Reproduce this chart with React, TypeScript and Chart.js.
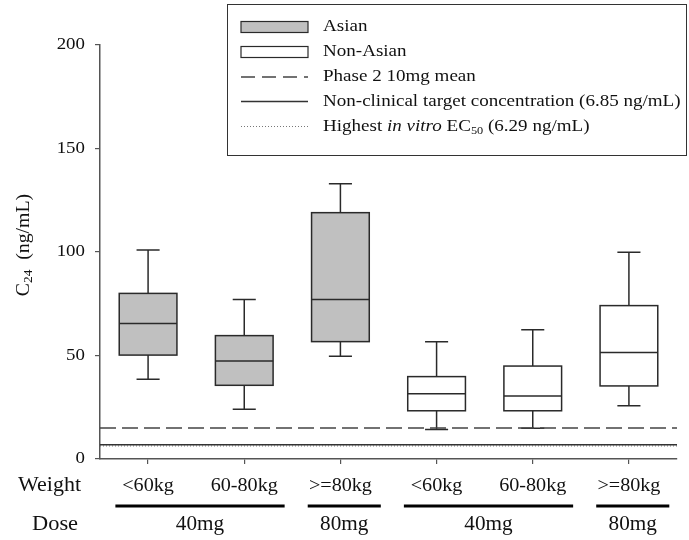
import React, { useEffect, useRef } from 'react';
import { Chart, registerables } from 'chart.js';

Chart.register(...registerables);

// ---- Data ----
const weightLabels = ['<60kg', '60-80kg', '>=80kg', '<60kg', '60-80kg', '>=80kg'];
const populations = ['Asian', 'Asian', 'Asian', 'Non-Asian', 'Non-Asian', 'Non-Asian'];
const whiskerMax = [101, 77, 133, 56.7, 62.5, 99.9];
const q3Values = [80, 59.6, 119, 39.8, 44.9, 74.1];
const medianValues = [65.4, 47.3, 77.1, 31.5, 30.4, 51.4];
const q1Values = [50.2, 35.6, 56.7, 23.3, 23.3, 35.3];
const whiskerMin = [38.5, 24, 49.6, 14.3, 14.8, 25.7];
const doseLabels = ['40mg', '80mg', '40mg', '80mg'];
const doseFirstCategory = [0, 2, 3, 5];
const doseLastCategory = [1, 2, 4, 5];
const phase2Mean = 15;
const targetConcentration = 6.85;
const ec50 = 6.29;
const yTicks = [0, 50, 100, 150, 200];

const SERIF = "'Liberation Serif', 'Times New Roman', serif";
const FILL: Record<string, string> = { 'Asian': '#c0c0c0', 'Non-Asian': '#ffffff' };

function drawText(
  ctx: CanvasRenderingContext2D,
  text: string,
  x: number,
  y: number,
  font: string,
  align: 'left' | 'center' | 'right' = 'left',
  sx = 1.12,
  color = '#111'
) {
  ctx.save();
  ctx.font = font;
  ctx.textBaseline = 'middle';
  ctx.textAlign = 'left';
  ctx.fillStyle = color;
  const w = ctx.measureText(text).width * sx;
  const left = align === 'center' ? x - w / 2 : align === 'right' ? x - w : x;
  ctx.translate(left, y);
  ctx.scale(sx, 1);
  ctx.fillText(text, 0, 0);
  ctx.restore();
  return w;
}

type Piece = { t: string; size: number; italic?: boolean; dy?: number };

function measurePieces(ctx: CanvasRenderingContext2D, pieces: Piece[], sx: number) {
  let w = 0;
  for (const p of pieces) {
    ctx.font = `${p.italic ? 'italic ' : ''}${p.size}px ${SERIF}`;
    w += ctx.measureText(p.t).width * sx;
  }
  return w;
}

function drawPieces(ctx: CanvasRenderingContext2D, pieces: Piece[], x: number, y: number, sx: number) {
  let cx = x;
  for (const p of pieces) {
    const w = drawText(ctx, p.t, cx, y + (p.dy || 0), `${p.italic ? 'italic ' : ''}${p.size}px ${SERIF}`, 'left', sx);
    cx += w;
  }
}

const customPlugin = {
  id: 'customDraw',
  beforeDatasetsDraw(chart: any) {
    const ctx: CanvasRenderingContext2D = chart.ctx;
    const xs = chart.scales.x;
    const ys = chart.scales.y;
    const halfBox = 0.3;
    const halfCap = 0.12;
    ctx.save();
    for (let i = 0; i < weightLabels.length; i++) {
      const pos = i + 1;
      const xl = xs.getPixelForValue(pos - halfBox);
      const xr = xs.getPixelForValue(pos + halfBox);
      const xc = xs.getPixelForValue(pos);
      const cl = xs.getPixelForValue(pos - halfCap);
      const cr = xs.getPixelForValue(pos + halfCap);
      const yq1 = ys.getPixelForValue(q1Values[i]);
      const yq3 = ys.getPixelForValue(q3Values[i]);
      const ymed = ys.getPixelForValue(medianValues[i]);
      const ymax = ys.getPixelForValue(whiskerMax[i]);
      const ymin = ys.getPixelForValue(whiskerMin[i]);
      ctx.strokeStyle = '#2a2a2a';
      ctx.lineWidth = 1.5;
      // whiskers
      ctx.beginPath();
      ctx.moveTo(xc, yq3); ctx.lineTo(xc, ymax);
      ctx.moveTo(cl, ymax); ctx.lineTo(cr, ymax);
      ctx.moveTo(xc, yq1); ctx.lineTo(xc, ymin);
      ctx.moveTo(cl, ymin); ctx.lineTo(cr, ymin);
      ctx.stroke();
      // box
      ctx.fillStyle = FILL[populations[i]];
      ctx.fillRect(xl, yq3, xr - xl, yq1 - yq3);
      ctx.strokeRect(xl, yq3, xr - xl, yq1 - yq3);
      // median
      ctx.beginPath();
      ctx.moveTo(xl, ymed); ctx.lineTo(xr, ymed);
      ctx.stroke();
    }
    ctx.restore();
  },
  afterDraw(chart: any) {
    const ctx: CanvasRenderingContext2D = chart.ctx;
    const xs = chart.scales.x;
    const ys = chart.scales.y;
    const area = chart.chartArea;

    // y tick labels
    for (const t of yTicks) {
      drawText(ctx, String(t), area.left - 15, ys.getPixelForValue(t), `16px ${SERIF}`, 'right', 1.18);
    }

    // y axis title (rotated)
    ctx.save();
    ctx.translate(24, 245);
    ctx.rotate(-Math.PI / 2);
    const titlePieces: Piece[] = [
      { t: 'C', size: 18 },
      { t: '24', size: 12, dy: 5 },
      { t: '  (ng/mL)', size: 18 },
    ];
    const tw = measurePieces(ctx, titlePieces, 1.1);
    drawPieces(ctx, titlePieces, -tw / 2, 0, 1.1);
    ctx.restore();

    // weight row
    const weightY = 486;
    drawText(ctx, 'Weight', 18, weightY, `20px ${SERIF}`, 'left', 1.1);
    for (let i = 0; i < weightLabels.length; i++) {
      drawText(ctx, weightLabels[i], xs.getPixelForValue(i + 1), weightY, `18px ${SERIF}`, 'center', 1.12);
    }

    // dose row
    const barY = 506;
    const doseY = 525;
    drawText(ctx, 'Dose', 32, doseY, `20px ${SERIF}`, 'left', 1.12);
    for (let d = 0; d < doseLabels.length; d++) {
      const x0 = xs.getPixelForValue(doseFirstCategory[d] + 1 - 0.34);
      const x1 = xs.getPixelForValue(doseLastCategory[d] + 1 + 0.42);
      ctx.save();
      ctx.strokeStyle = '#000';
      ctx.lineWidth = 3;
      ctx.beginPath();
      ctx.moveTo(x0, barY);
      ctx.lineTo(x1, barY);
      ctx.stroke();
      ctx.restore();
      drawText(ctx, doseLabels[d], (x0 + x1) / 2, doseY, `20px ${SERIF}`, 'center', 1.06);
    }

    // legend
    const lx0 = 227.5, ly0 = 4.5, lx1 = 686.5, ly1 = 155.5;
    ctx.save();
    ctx.fillStyle = '#fff';
    ctx.fillRect(lx0, ly0, lx1 - lx0, ly1 - ly0);
    ctx.strokeStyle = '#333';
    ctx.lineWidth = 1;
    ctx.strokeRect(lx0, ly0, lx1 - lx0, ly1 - ly0);
    ctx.restore();
    const symL = 241, symR = 308, textX = 323;
    const rowY = [27, 52, 77, 101.5, 126.5];
    const legendFont = `17px ${SERIF}`;
    const lsx = 1.12;
    // Asian / Non-Asian boxes
    ['Asian', 'Non-Asian'].forEach((name, k) => {
      ctx.save();
      ctx.fillStyle = FILL[name];
      ctx.strokeStyle = '#2a2a2a';
      ctx.lineWidth = 1.2;
      ctx.fillRect(symL, rowY[k] - 5.5, symR - symL, 11);
      ctx.strokeRect(symL, rowY[k] - 5.5, symR - symL, 11);
      ctx.restore();
      drawText(ctx, name, textX, rowY[k], legendFont, 'left', lsx);
    });
    const legendLine = (y: number, dash: number[], color: string, width: number) => {
      ctx.save();
      ctx.strokeStyle = color;
      ctx.lineWidth = width;
      ctx.setLineDash(dash);
      ctx.beginPath();
      ctx.moveTo(symL, y);
      ctx.lineTo(symR, y);
      ctx.stroke();
      ctx.restore();
    };
    legendLine(rowY[2], [14, 7], '#444', 1.5);
    drawText(ctx, 'Phase 2 10mg mean', textX, rowY[2], legendFont, 'left', lsx);
    legendLine(rowY[3], [], '#333', 1.5);
    drawText(ctx, `Non-clinical target concentration (${targetConcentration} ng/mL)`, textX, rowY[3], legendFont, 'left', lsx);
    legendLine(rowY[4], [1, 2], '#777', 1);
    drawPieces(ctx, [
      { t: 'Highest ', size: 17 },
      { t: 'in vitro', size: 17, italic: true },
      { t: ' EC', size: 17 },
      { t: '50', size: 11, dy: 5 },
      { t: ` (${ec50} ng/mL)`, size: 17 },
    ], textX, rowY[4], lsx);
  },
};

export default function App() {
  const canvasRef = useRef<HTMLCanvasElement | null>(null);

  useEffect(() => {
    if (!canvasRef.current) return;
    const xMin = 0.5;
    const xMax = 6.5;
    const refLine = (label: string, y: number, dash: number[], color: string, width: number) => ({
      type: 'line' as const,
      label,
      data: [{ x: xMin, y }, { x: xMax, y }],
      borderColor: color,
      borderWidth: width,
      borderDash: dash,
      pointRadius: 0,
      fill: false,
    });
    const chart = new Chart(canvasRef.current, {
      type: 'line',
      data: {
        datasets: [
          refLine('Phase 2 10mg mean', phase2Mean, [16, 6], '#444', 1.5),
          refLine('Non-clinical target concentration', targetConcentration, [], '#333', 1.5),
          refLine('Highest in vitro EC50', ec50, [1, 2], '#777', 1),
        ],
      },
      options: {
        responsive: false,
        animation: false,
        devicePixelRatio: 1,
        layout: { padding: { left: 95, right: 12, top: 45, bottom: 76 } },
        plugins: { legend: { display: false }, tooltip: { enabled: false } },
        scales: {
          x: {
            type: 'linear',
            min: xMin,
            max: xMax,
            afterBuildTicks: (scale: any) => {
              scale.ticks = weightLabels.map((_, i) => ({ value: i + 1 }));
            },
            ticks: { display: false },
            grid: { drawOnChartArea: false, drawTicks: true, tickLength: 5, color: '#555', lineWidth: 1.2 },
            border: { display: true, color: '#555', width: 1.5 },
          },
          y: {
            type: 'linear',
            min: 0,
            max: 200,
            afterBuildTicks: (scale: any) => {
              scale.ticks = yTicks.map((v) => ({ value: v }));
            },
            ticks: { display: false },
            grid: { drawOnChartArea: false, drawTicks: true, tickLength: 5, color: '#555', lineWidth: 1.2 },
            border: { display: true, color: '#555', width: 1.5 },
          },
        },
      },
      plugins: [customPlugin],
    });
    return () => chart.destroy();
  }, []);

  return (
    <div style={{ position: 'fixed', left: 0, top: 0, width: 689, height: 540, background: '#fff' }}>
      <canvas ref={canvasRef} width={689} height={540} />
    </div>
  );
}
